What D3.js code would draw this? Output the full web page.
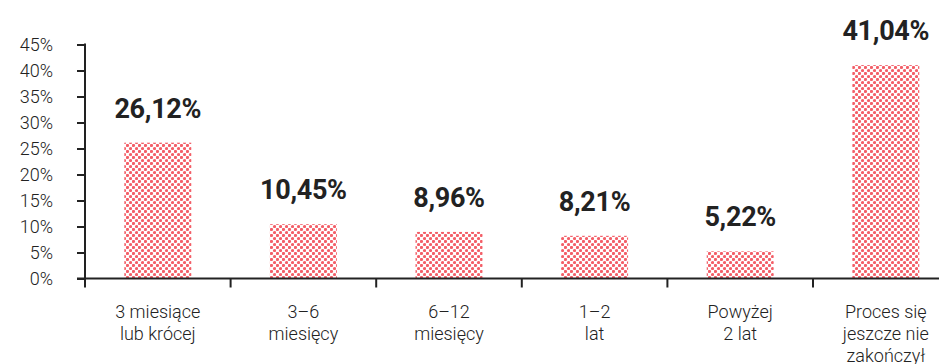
<!DOCTYPE html>
<html>
<head>
<meta charset="utf-8">
<script src="https://cdn.jsdelivr.net/npm/d3@7/dist/d3.min.js"></script>
<style>
  html, body { margin: 0; padding: 0; background: #fff; }
  svg { display: block; }
  text { font-family: Roboto, "Noto Sans", sans-serif; fill: #222; }
</style>
</head>
<body>
<svg id="chart" width="939" height="364"></svg>
<script>
// Czas trwania procesu — udział odpowiedzi
const categories = [
  ["3 miesiące", "lub krócej"],
  ["3–6", "miesięcy"],
  ["6–12", "miesięcy"],
  ["1–2", "lat"],
  ["Powyżej", "2 lat"],
  ["Proces się", "jeszcze nie", "zakończył"]
];
const values = [26.12, 10.45, 8.96, 8.21, 5.22, 41.04];
const yTicks = [0, 5, 10, 15, 20, 25, 30, 35, 40, 45];

const W = 939, H = 364;
const plotLeft = 85, plotBottom = 278.5, plotTop = 44.5;
const step = 145.6;

const svg = d3.select("#chart");

// dotted fill for the bars
const defs = svg.append("defs");
const pat = defs.append("pattern")
  .attr("id", "dots")
  .attr("patternUnits", "userSpaceOnUse")
  .attr("width", 6).attr("height", 6);
pat.append("circle").attr("cx", 1.5).attr("cy", 1.5).attr("r", 1.6).attr("fill", "#f35f68");
pat.append("circle").attr("cx", 4.5).attr("cy", 4.5).attr("r", 1.6).attr("fill", "#f35f68");

const x = d3.scaleBand()
  .domain(d3.range(categories.length))
  .range([plotLeft, plotLeft + step * categories.length])
  .paddingInner(0.54)
  .paddingOuter(0.27);

const y = d3.scaleLinear().domain([0, 45]).range([plotBottom, plotTop]);

const fmt = v => d3.format(".2f")(v).replace(".", ",") + "%";

// bars
svg.append("g").selectAll("rect")
  .data(values)
  .join("rect")
  .attr("x", (d, i) => x(i))
  .attr("width", x.bandwidth())
  .attr("y", d => y(d))
  .attr("height", d => y(0) - y(d))
  .attr("fill", "url(#dots)");

// value labels
svg.append("g").selectAll("text")
  .data(values)
  .join("text")
  .attr("x", (d, i) => x(i) + x.bandwidth() / 2)
  .attr("y", d => y(d) - 25)
  .attr("text-anchor", "middle")
  .style("font-size", "27px")
  .style("font-weight", 700)
  .style("letter-spacing", "-0.3px")
  .text(fmt);

// y axis
const yAxis = d3.axisLeft(y)
  .tickValues(yTicks)
  .tickSize(8)
  .tickPadding(24)
  .tickFormat(d => d + "%");
const gy = svg.append("g").attr("transform", `translate(${plotLeft},0)`).call(yAxis);
gy.select(".domain").remove();
gy.selectAll(".tick line").attr("stroke", "#222").attr("stroke-width", 2);
gy.selectAll(".tick text").style("font-size", "18px").attr("fill", "#2a2a2a").style("font-weight", 300);
gy.append("line")
  .attr("x1", 0).attr("x2", 0)
  .attr("y1", y(45) - 1).attr("y2", y(0) + 9)
  .attr("stroke", "#222").attr("stroke-width", 2);

// x axis
const gx = svg.append("g");
gx.append("line")
  .attr("x1", plotLeft - 8).attr("x2", W)
  .attr("y1", y(0)).attr("y2", y(0))
  .attr("stroke", "#222").attr("stroke-width", 2);
gx.selectAll("line.tk")
  .data(d3.range(1, categories.length))
  .join("line")
  .attr("class", "tk")
  .attr("x1", i => plotLeft + i * x.step())
  .attr("x2", i => plotLeft + i * x.step())
  .attr("y1", y(0)).attr("y2", y(0) + 9)
  .attr("stroke", "#222").attr("stroke-width", 2);

// category labels
const cl = gx.selectAll("text.cat")
  .data(categories)
  .join("text")
  .attr("class", "cat")
  .attr("text-anchor", "middle")
  .style("font-size", "18px")
  .style("font-weight", 300)
  .attr("fill", "#2a2a2a")
  .attr("transform", (d, i) => `translate(${x(i) + x.bandwidth() / 2},${y(0) + 39})`);
cl.selectAll("tspan")
  .data(d => d)
  .join("tspan")
  .attr("x", 0)
  .attr("dy", (d, j) => j === 0 ? 0 : 22)
  .text(d => d);
</script>
</body>
</html>
